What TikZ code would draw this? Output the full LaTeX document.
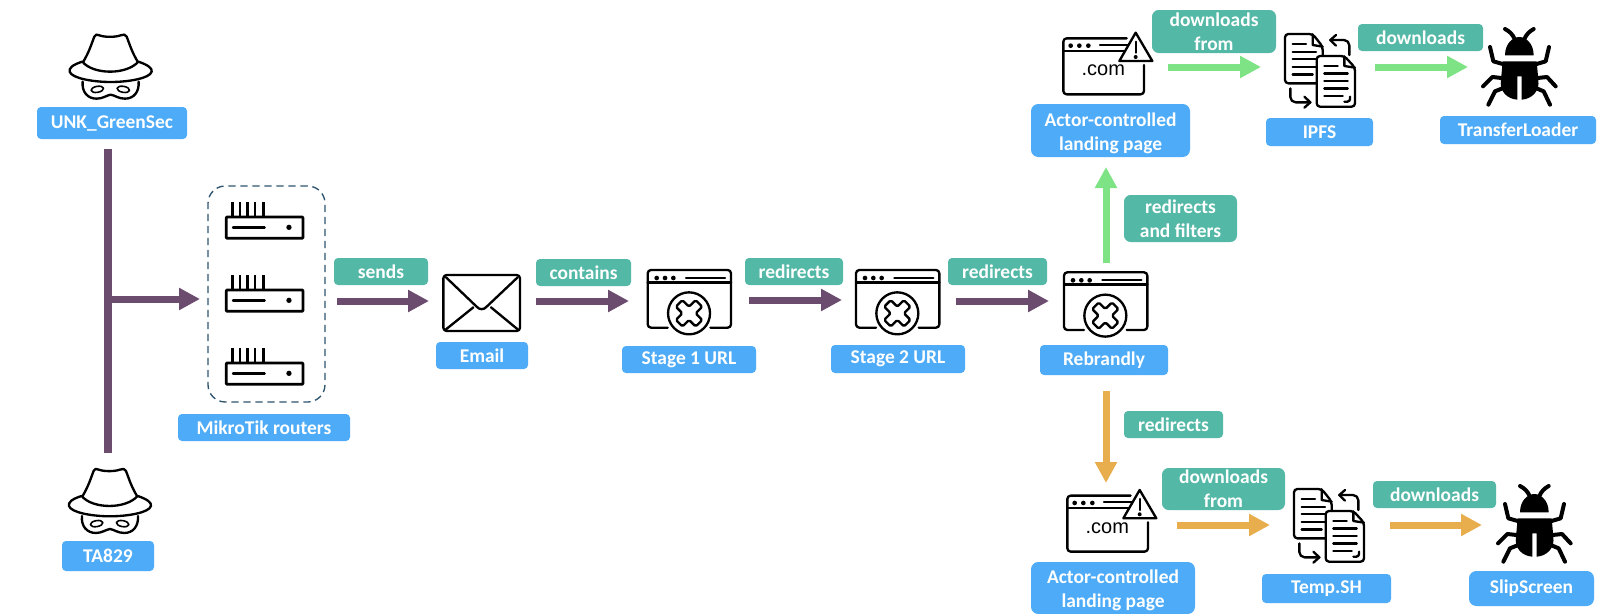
\documentclass[tikz,border=0pt]{standalone}
\usepackage{fontspec}
\setmainfont{Carlito}
\newfontfamily\comfont{Liberation Sans}
\usetikzlibrary{arrows.meta}
\definecolor{pathpurple}{HTML}{6B4C6E}
\definecolor{pathgreen}{HTML}{7DE384}
\definecolor{pathorange}{HTML}{E8AE4E}
\definecolor{labelteal}{HTML}{54B8A6}
\definecolor{labelblue}{HTML}{4DABF7}
\definecolor{dashblue}{HTML}{2E5470}
\tikzset{
  bluebox/.style={fill=labelblue,text=white,rounded corners=3pt,inner sep=0pt,outer sep=0pt,align=center,font=\bfseries\fontsize{14.6}{18}\selectfont},
  tealbox/.style={fill=labelteal,text=white,rounded corners=3pt,inner sep=0pt,outer sep=0pt,align=center,font=\bfseries\fontsize{14.6}{18}\selectfont},
  slotbox/.style={inner sep=0pt,outer sep=0pt},
  flowarrow/.style={line width=5.25pt,-{Triangle[length=15.75pt,width=15.75pt]}},
  purplearrow/.style={flowarrow,draw=pathpurple},
  greenarrow/.style={flowarrow,draw=pathgreen},
  orangearrow/.style={flowarrow,draw=pathorange},
  iconline/.style={draw=black,line width=1.75pt,line join=round,line cap=round},
  bugleg/.style={draw=black,line width=3pt,line join=round,line cap=round},
  zoomframe/.style={x=.25pt,y=-.25pt}
}
\newcommand{\boxat}[7]{\node[#1,minimum width={(#5-#3)*.75pt},minimum height={(#6-#4)*.75pt}] (#2) at ({(#3+#5)/2},{(#4+#6)/2}) {#7};}
\newcommand{\hatIcon}[2]{\begin{scope}[shift={(#1,#2)},zoomframe]
  \draw[iconline] (250,125) .. controls (268,95) and (275,70) .. (283,50) .. controls (285,43) and (292,42) .. (298,46) .. controls (315,52) and (345,52) .. (362,46) .. controls (370,42) and (377,43) .. (380,50) .. controls (388,70) and (395,95) .. (413,125);
  \draw[iconline] (247,125) .. controls (280,165) and (380,165) .. (415,125);
  \draw[iconline] (247,125) .. controls (215,135) and (207,145) .. (209,155) .. controls (215,175) and (280,186) .. (332,186) .. controls (385,186) and (450,175) .. (455,155) .. controls (457,145) and (445,135) .. (415,125);
  \draw[iconline] (248,185) .. controls (245,215) and (262,236) .. (290,236) .. controls (308,236) and (320,226) .. (332,224) .. controls (345,226) and (355,236) .. (375,236) .. controls (402,236) and (418,215) .. (416,185);
  \draw[iconline,line width=1.2pt] (292,208) ellipse [x radius=19,y radius=9,rotate=10];
  \draw[iconline,line width=1.2pt] (370,208) ellipse [x radius=19,y radius=9,rotate=-10];
\end{scope}}
\newcommand{\routerIcon}[2]{\begin{scope}[shift={(#1,#2)},zoomframe]
  \draw[iconline,line width=2.1pt,line cap=butt,rounded corners=.6pt] (0,0) rectangle (230,64);
  \foreach \ax in {19,41,63,86,111} {\draw[iconline,line width=2pt,line cap=butt] (\ax,0) -- (\ax,-44);}
  \draw[iconline] (20,31) -- (115,31);
  \fill (188,31) circle [radius=8];
\end{scope}}
\newcommand{\windowIcon}[2]{\begin{scope}[shift={(#1,#2)},zoomframe]
  \draw[iconline,rounded corners=2.5pt] (60,173) -- (0,173) -- (0,0) -- (250,0) -- (250,173) -- (188,173);
  \draw[iconline] (0,37) -- (250,37);
  \foreach \dx in {27,52,77} {\fill (\dx,24) circle [radius=7];}
  \draw[iconline] (115,24) -- (232,24);
  \draw[iconline] (124,130) circle [radius=63];
  \draw[iconline,rounded corners=1.2pt,shift={(124,130)},rotate=45] (-14,-42) -- (14,-42) -- (14,-14) -- (42,-14) -- (42,14) -- (14,14) -- (14,42) -- (-14,42) -- (-14,14) -- (-42,14) -- (-42,-14) -- (-14,-14) -- cycle;
\end{scope}}
\newcommand{\warnIcon}[3]{\begin{scope}[shift={(#2,#3)},zoomframe]
  \draw[iconline,rounded corners=2.5pt] (290,115) -- (100,115) -- (100,283) -- (342,283) -- (342,195);
  \draw[iconline] (100,153) -- (285,153);
  \draw[iconline] (210,135) -- (293,135);
  \foreach \dx in {122,148,175} {\fill (\dx,137) circle [radius=7];}
  \draw[iconline] (317,98) -- (367,183) -- (268,183) -- cycle;
  \draw[iconline] (317,125) -- (317,158);
  \fill (317,171) circle [radius=6];
  \node[inner sep=0pt,font=\comfont\fontsize{15}{18}\selectfont] (#1) at (220,212) {.com};
\end{scope}}
\newcommand{\docsIcon}[2]{\begin{scope}[shift={(#1,#2)},zoomframe]
  \draw[iconline,rounded corners=2.5pt] (107,265) -- (12,265) -- (12,117) -- (95,117) -- (125,155) -- (125,183);
  \draw[iconline] (95,118) -- (95,150) -- (125,155);
  \foreach \ly/\lx in {147/75,170/105,192/105,215/105,238/95} {\draw[iconline] (35,\ly) -- (\lx,\ly);}
  \draw[iconline,rounded corners=2.5pt] (107,335) -- (107,183) -- (190,183) -- (222,218) -- (222,335) -- cycle;
  \draw[iconline] (190,184) -- (190,213) -- (222,218);
  \foreach \ly/\lx in {213/170,235/200,258/200,280/200,302/185} {\draw[iconline] (130,\ly) -- (\lx,\ly);}
  \draw[iconline,rounded corners=2pt] (190,320) -- (207,320) -- (207,305);
  \draw[iconline,rounded corners=4pt] (205,180) -- (205,135) -- (148,135);
  \draw[iconline] (165,120) -- (148,135) -- (165,152);
  \draw[iconline,rounded corners=4pt] (28,280) -- (28,322) -- (88,322);
  \draw[iconline] (70,305) -- (88,322) -- (70,338);
\end{scope}}
\newcommand{\bugIcon}[2]{\begin{scope}[shift={(#1,#2)},zoomframe]
  \fill (690,187) .. controls (690,150) and (715,132) .. (733,132) .. controls (751,132) and (776,150) .. (776,187) -- cycle;
  \fill (683,205) -- (785,205) -- (790,260) .. controls (795,295) and (770,318) .. (740,320) -- (740,250) -- (727,250) -- (727,320) .. controls (697,318) and (672,295) .. (678,260) -- cycle;
  \draw[bugleg] (720,140) .. controls (712,122) and (703,115) .. (690,108);
  \draw[bugleg] (747,140) .. controls (755,122) and (764,115) .. (776,108);
  \draw[bugleg] (690,215) -- (655,205) -- (645,162);
  \draw[bugleg] (778,215) -- (812,205) -- (822,162);
  \draw[bugleg] (680,255) -- (652,252) -- (624,280);
  \draw[bugleg] (788,255) -- (816,252) -- (842,280);
  \draw[bugleg] (685,285) -- (660,295) -- (640,335);
  \draw[bugleg] (782,285) -- (806,295) -- (825,335);
\end{scope}}
\newcommand{\mailIcon}[2]{\begin{scope}[shift={(#1,#2)},zoomframe]
  \draw[iconline,rounded corners=2.5pt] (70,75) rectangle (300,243);
  \draw[iconline] (78,82) -- (170,170) .. controls (178,180) and (192,180) .. (200,170) -- (293,82);
  \draw[iconline] (78,238) -- (160,172);
  \draw[iconline] (293,238) -- (213,172);
\end{scope}}
\begin{document}
\begin{tikzpicture}[x=.75pt,y=-.75pt]
\useasboundingbox (0,0) rectangle (1618,614);
\fill[white] (0,0) rectangle (1618,614);
% icons
\hatIcon{0}{20}
\hatIcon{-0.7}{454.3}
\node[draw=dashblue,dash pattern=on 5.5pt off 3.5pt,line width=1pt,rounded corners=13pt,minimum width={117*.75pt},minimum height={216*.75pt},inner sep=0pt] (routergroup) at (266.5,294) {};
\routerIcon{226.3}{217}
\routerIcon{226.3}{290}
\routerIcon{226.3}{363}
\mailIcon{420}{250}
\windowIcon{647.7}{270}
\windowIcon{856}{270}
\windowIcon{1064}{272.3}
\warnIcon{comtop}{1030}{0}
\warnIcon{combottom}{1034}{457.3}
\docsIcon{1281}{-5}
\docsIcon{1290}{450}
\bugIcon{1275}{-7}
\bugIcon{1290}{450}
% blue name labels
\boxat{bluebox}{unk}{37}{107}{187}{139}{UNK\_GreenSec}
\boxat{bluebox}{ta}{62}{541}{154}{571}{TA829}
\boxat{bluebox}{mikrotik}{178}{414}{350}{441}{MikroTik routers}
\boxat{bluebox}{emailname}{436}{342}{528}{369}{Email}
\boxat{bluebox}{stageonename}{622}{346}{756}{373}{Stage 1 URL}
\boxat{bluebox}{stagetwoname}{831}{345}{965}{373}{Stage 2 URL}
\boxat{bluebox}{rebrandlyname}{1040}{345}{1168}{375}{Rebrandly}
\boxat{bluebox,rounded corners=5.5pt}{actortopname}{1031}{104}{1190}{157}{\rule{0pt}{15pt}Actor-controlled\\landing page}
\boxat{bluebox}{ipfsname}{1266}{118}{1373}{146}{IPFS}
\boxat{bluebox}{transfername}{1440}{116}{1596}{144}{TransferLoader}
\boxat{bluebox,rounded corners=5.5pt}{actorbottomname}{1031}{562}{1195}{614}{\rule{0pt}{13pt}Actor-controlled\\landing page}
\boxat{bluebox}{tempname}{1262}{574}{1391}{603}{Temp.SH}
\boxat{bluebox,rounded corners=5.5pt}{slipname}{1469}{571}{1594}{606}{SlipScreen}
% teal relation labels
\boxat{tealbox}{lsends}{334}{258}{428}{285}{sends}
\boxat{tealbox}{lcontains}{536}{259}{631}{286}{contains}
\boxat{tealbox}{lredirectsa}{745}{258}{843}{285}{redirects}
\boxat{tealbox}{lredirectsb}{948}{258}{1047}{285}{redirects}
\boxat{tealbox,rounded corners=5pt}{lfilters}{1124}{195}{1237}{242}{redirects\\and filters}
\boxat{tealbox}{lredirectsc}{1124}{411}{1223}{438}{redirects}
\boxat{tealbox,rounded corners=5pt}{ldlfromtop}{1152}{10}{1276}{53}{downloads\\from}
\boxat{tealbox}{ldltop}{1358}{24}{1483}{51}{downloads}
\boxat{tealbox,rounded corners=5pt}{ldlfrombottom}{1162}{468}{1285}{510}{downloads\\from}
\boxat{tealbox}{ldlbottom}{1373}{481}{1496}{508}{downloads}
% invisible slots around the icons, giving the connector ends
\boxat{slotbox}{routers}{200}{270}{337}{330}{}
\boxat{slotbox}{email}{429}{271}{536}{331}{}
\boxat{slotbox}{stageone}{629}{270}{749}{330}{}
\boxat{slotbox}{stagetwo}{842}{271}{956}{331}{}
\boxat{slotbox}{rebrandly}{1049}{263}{1163}{391}{}
\boxat{slotbox}{actortop}{1044}{-33}{1168}{167}{}
\boxat{slotbox}{ipfs}{1261}{27}{1375}{107}{}
\boxat{slotbox}{transfer}{1468}{27}{1590}{107}{}
\boxat{slotbox}{actorbottom}{1033}{483}{1177}{565}{}
\boxat{slotbox}{temp}{1270}{485}{1390}{565}{}
\boxat{slotbox}{slip}{1482}{485}{1590}{565}{}
\coordinate (trunktop) at (108,149);
\coordinate (trunkbottom) at (108,453);
\coordinate (junction) at (108,299);
% connectors
\draw[draw=pathpurple,line width=6pt] (trunktop) -- (trunkbottom);
\draw[purplearrow] (junction) -- (junction -| routers.west);
\draw[purplearrow] (email.west -| routers.east) -- (email.west);
\draw[purplearrow] (email.east) -- (email.east -| stageone.west);
\draw[purplearrow] (stageone.east) -- (stageone.east -| stagetwo.west);
\draw[purplearrow] (stagetwo.east) -- (stagetwo.east -| rebrandly.west);
\draw[greenarrow] (rebrandly.north) -- (rebrandly.north |- actortop.south);
\draw[greenarrow] (actortop.east) -- (ipfs.west);
\draw[greenarrow] (ipfs.east) -- (transfer.west);
\draw[orangearrow] (rebrandly.south) -- (rebrandly.south |- actorbottom.north);
\draw[orangearrow] (actorbottom.east |- temp.west) -- (temp.west);
\draw[orangearrow] (temp.east) -- (slip.west);
\end{tikzpicture}
\end{document}
